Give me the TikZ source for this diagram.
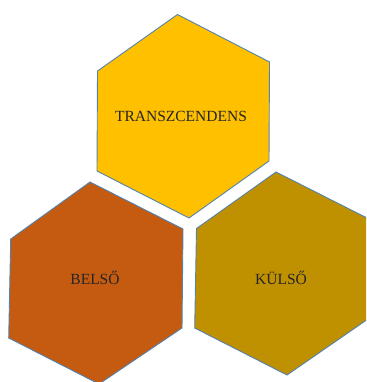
\documentclass[tikz,border=0pt]{standalone}
\usepackage{fontspec}
\setmainfont{Liberation Serif}
\definecolor{hexgold}{RGB}{255,192,0}
\definecolor{hexrust}{RGB}{197,90,17}
\definecolor{hexolive}{RGB}{191,144,0}
\definecolor{hexline}{RGB}{84,130,175}
\tikzset{
  hexa/.style={draw=hexline,line width=0.9pt,line join=miter},
  hexlabel/.style={font=\fontsize{15.5}{18}\selectfont,text=black!85,anchor=base,inner sep=0pt}
}

\begin{document}
\begin{tikzpicture}[x=1pt,y=-1pt]
\useasboundingbox (0,0) rectangle (366,382);
\clip (0,0) rectangle (366,382);
\draw[hexa,fill=hexgold] (177.5,14.5) -- (269.5,62) -- (269,161) -- (189,218) -- (97,171) -- (97.5,71) -- cycle;
\draw[hexa,fill=hexrust] (90,182) -- (183,229) -- (182,328) -- (99,384) -- (8.7,338) -- (10.7,239) -- cycle;
\draw[hexa,fill=hexolive] (276,172) -- (369,219) -- (368,319) -- (287,375) -- (194.7,328) -- (196.5,228.5) -- cycle;

\node[hexlabel] (transz) at (181,122) {TRANSZCENDENS};
\node[hexlabel] (belso) at (95,284) {BELSŐ};
\node[hexlabel] (kulso) at (281,284) {KÜLSŐ};
\end{tikzpicture}
\end{document}
